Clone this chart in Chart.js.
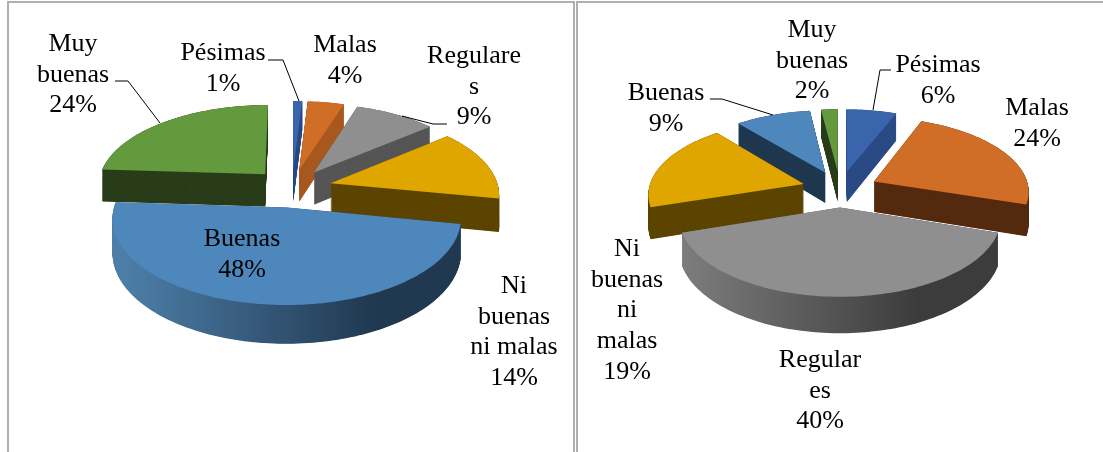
<!DOCTYPE html>
<html>
<head>
<meta charset="utf-8">
<style>
  html, body { margin: 0; padding: 0; background: #fff; }
  body { width: 1103px; height: 452px; overflow: hidden; position: relative; }
  .frame { position: absolute; top: 1px; height: 451px; border-top: 2px solid #b0b0b0; border-left: 2px solid #b0b0b0; box-sizing: border-box; }
  .box { position: absolute; top: 0; height: 452px; }
  canvas { filter: blur(0.45px); }
</style>
<script src="https://cdn.jsdelivr.net/npm/chart.js@4/dist/chart.umd.min.js"></script>
</head>
<body>
<div class="frame" style="left:7px;width:568px;border-right:2px solid #b0b0b0"></div>
<div class="frame" style="left:576px;width:527px"></div>
<div class="box" style="left:0;width:584px"><canvas id="left-chart"></canvas></div>
<div class="box" style="left:577px;width:526px"><canvas id="right-chart"></canvas></div>
<script>
// Data
const categories = ["Pésimas", "Malas", "Regulares", "Ni buenas ni malas", "Buenas", "Muy buenas"];
const leftValues = [1, 4, 9, 14, 48, 24];
const rightValues = [6, 24, 40, 19, 9, 2];

// wrapped the same way as the picture
const leftLines = [["Pésimas"], ["Malas"], ["Regulare", "s"], ["Ni", "buenas", "ni malas"], ["Buenas"], ["Muy", "buenas"]];
const rightLines = [["Pésimas"], ["Malas"], ["Regular", "es"], ["Ni", "buenas", "ni", "malas"], ["Buenas"], ["Muy", "buenas"]];

// Styles
const topColors = ["#3a64ac", "#d06e28", "#8f8f8f", "#dfa600", "#4d87bc", "#639a3e"];
const leftWalls = ["#2a4a85", "#a8581f", "#565656", "#5c4500", "#203850", "#2a3d1a"];
const rightWalls = ["#2a4a85", "#552b10", "#3c3c3c", "#5c4500", "#203850", "#2a3d1a"];
const leftLabelPos = [[223, 60], [345, 52], [474, 63], [514, 293], [242, 246], [73, 51]];
const rightLabelPos = [[361, 72], [460, 115], [243, 367], [50, 256], [89, 100], [235, 37]];
const leftLeaders = [[[268, 60], [283, 60], [299, 101]], [[447, 124], [433, 124], [402, 116]], [[115, 81], [128, 81], [160, 123]]];
const rightLeaders = [[[133, 99], [145, 99], [196, 115]], [[314, 70], [303, 70], [296, 110]]];

const FONT = '26px "Liberation Serif"';
const LINE = 30.7;

// 3D look: squash and perspective on the plane of the pie, then extrude down
function project(c, arc, u, v, t) {
  const s = 1 / (1 - c.persp * v / arc.outerRadius);
  return [arc.x + u * s, arc.y + c.squash * v * s + t * c.depth * s];
}

function slicePath(ctx, c, arc, t) {
  const mid = (arc.startAngle + arc.endAngle) / 2;
  const ax = Math.cos(mid) * c.explode;
  const ay = Math.sin(mid) * c.explode;
  const steps = Math.max(4, Math.ceil((arc.endAngle - arc.startAngle) * 40));
  ctx.beginPath();
  let p = project(c, arc, ax, ay, t);
  ctx.moveTo(p[0], p[1]);
  for (let i = 0; i <= steps; i++) {
    const a = arc.startAngle + (arc.endAngle - arc.startAngle) * i / steps;
    p = project(c, arc, ax + Math.cos(a) * arc.outerRadius, ay + Math.sin(a) * arc.outerRadius, t);
    ctx.lineTo(p[0], p[1]);
  }
  ctx.closePath();
}

const pie3d = {
  id: "pie3d",
  beforeDatasetsDraw(chart) {
    const c = chart.options.plugins.pie3d;
    const ctx = chart.ctx;
    const arcs = chart.getDatasetMeta(0).data;
    const order = arcs.map((a, i) => i).sort((i, j) =>
      Math.sin((arcs[i].startAngle + arcs[i].endAngle) / 2) - Math.sin((arcs[j].startAngle + arcs[j].endAngle) / 2));
    order.forEach(i => {
      const arc = arcs[i];
      let wall = c.walls[i];
      if (i === c.bigSlice) {
        // the big slice has a shaded rim
        const g = ctx.createLinearGradient(arc.x - arc.outerRadius, 0, arc.x + arc.outerRadius, 0);
        g.addColorStop(0, c.rimLight);
        g.addColorStop(0.75, c.walls[i]);
        g.addColorStop(1, c.walls[i]);
        wall = g;
      }
      ctx.fillStyle = wall;
      for (let t = 1; t > 0; t -= 0.5 / c.depth) {
        slicePath(ctx, c, arc, t);
        ctx.fill();
      }
      ctx.fillStyle = topColors[i];
      slicePath(ctx, c, arc, 0);
      ctx.fill();
    });
    return false;
  },
  afterDraw(chart) {
    const c = chart.options.plugins.pie3d;
    const ctx = chart.ctx;
    ctx.save();
    ctx.strokeStyle = "#000";
    ctx.lineWidth = 1;
    c.leaders.forEach(l => {
      ctx.beginPath();
      l.forEach((p, i) => i ? ctx.lineTo(p[0], p[1]) : ctx.moveTo(p[0], p[1]));
      ctx.stroke();
    });
    ctx.font = FONT;
    ctx.fillStyle = "#000";
    ctx.textAlign = "center";
    ctx.textBaseline = "alphabetic";
    c.lines.forEach((lines, i) => {
      const [x, y] = c.labelPos[i];
      lines.concat(chart.data.datasets[0].data[i] + "%").forEach((txt, k) => ctx.fillText(txt, x, y + k * LINE));
    });
    ctx.restore();
  }
};

function makePie(id, values, radius, bottom, cfg) {
  return new Chart(document.getElementById(id).getContext("2d"), {
    type: "pie",
    data: {
      labels: categories,
      datasets: [{ data: values, backgroundColor: topColors, borderWidth: 0, radius: radius }]
    },
    options: {
      responsive: true,
      maintainAspectRatio: false,
      animation: false,
      layout: { padding: { bottom: bottom } },
      plugins: { legend: { display: false }, tooltip: { enabled: false }, pie3d: cfg }
    },
    plugins: [pie3d]
  });
}

makePie("left-chart", leftValues, 168, 76, {
  squash: 0.48, persp: 0.12, depth: 33, explode: 40, bigSlice: 4, rimLight: "#4d7ea8",
  walls: leftWalls, lines: leftLines, labelPos: leftLabelPos, leaders: leftLeaders
});
makePie("right-chart", rightValues, 155, 74, {
  squash: 0.475, persp: 0.12, depth: 31, explode: 38, bigSlice: 2, rimLight: "#7c7c7c",
  walls: rightWalls, lines: rightLines, labelPos: rightLabelPos, leaders: rightLeaders
});
</script>
</body>
</html>
